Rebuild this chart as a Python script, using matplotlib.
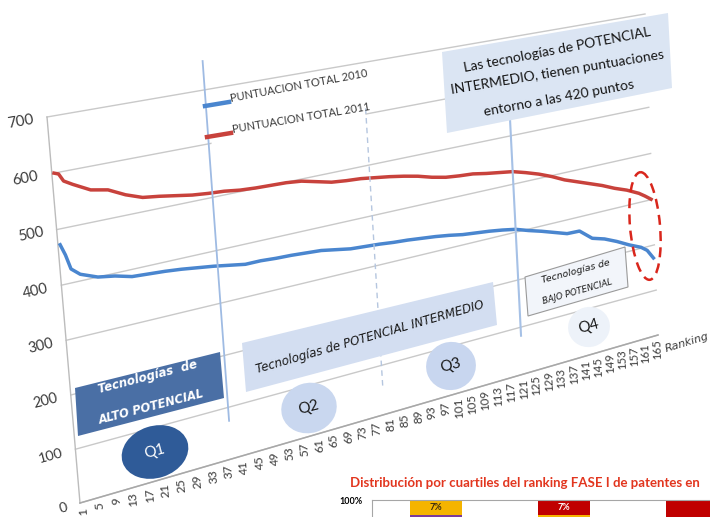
import numpy as np
import matplotlib
matplotlib.use("Agg")
import matplotlib.pyplot as plt
from matplotlib.transforms import Transform, Affine2D
from matplotlib.patches import Polygon, Ellipse

plt.rcParams['font.family'] = ['Lato', 'DejaVu Sans']
ITAL = 'DejaVu Sans'   # has a real oblique face

# values (ranking position -> total score)
rank = [1, 2, 3, 5, 9, 13, 17, 21, 25, 29, 33, 37, 41, 45, 49, 53, 57, 61, 65, 69,
        73, 77, 81, 85, 89, 93, 97, 101, 105, 109, 113, 117, 121, 125, 129, 133,
        137, 141, 145, 149, 153, 157, 161, 163, 165]
total_2011 = [600, 597, 583, 574, 558, 552, 537, 526, 522, 517, 512, 509, 507, 503,
              501, 500, 499, 496, 489, 482, 479, 477, 473, 469, 464, 458, 450, 444,
              441, 439, 434, 430, 426, 418, 409, 398, 385, 375, 365, 355, 343, 333,
              320, 311, 301]
total_2010 = [472, 452, 425, 412, 400, 395, 387, 385, 383, 380, 376, 372, 367, 362,
              362, 360, 359, 357, 355, 350, 345, 343, 341, 338, 336, 333, 330, 326,
              321, 318, 315, 311, 306, 297, 289, 280, 271, 270, 248, 240, 228, 214,
              202, 192, 172]
y_ticks = list(range(0, 701, 100))
x_ticks = list(range(1, 166, 4))
q_cuts = [38, 79.5, 121]
q_names = ['Q1', 'Q2', 'Q3', 'Q4']

# lower chart (only its top edge is in the picture)
bar_top = [7, 7, 20]
bar_rest = [93, 93, 80]
bar_top_col = ['#f5b400', '#c00000', '#c00000']
bar_rest_col = ['#7a3b9c', '#f5b400', '#c00000']

W, H = 710, 517
fig = plt.figure(figsize=(W / 100, H / 100), dpi=100)
ax = fig.add_axes([0, 0, 1, 1])
ax.set_xlim(0.5, 165.5)
ax.set_ylim(0, 700)
ax.set_autoscale_on(False)
ax.axis('off')

# the slide was photographed at an angle: plot-area corners in photo pixels
corners = [(80, 503), (658, 335), (645, 14), (47, 117)]


def homography(c):
    src = [(0, 0), (1, 0), (1, 1), (0, 1)]
    A, b = [], []
    for (u, v), (x, y) in zip(src, c):
        A.append([u, v, 1, 0, 0, 0, -u * x, -v * x]); b.append(x)
        A.append([0, 0, 0, u, v, 1, -u * y, -v * y]); b.append(y)
    h = np.linalg.solve(np.array(A, float), np.array(b, float))
    return np.append(h, 1).reshape(3, 3)


class Persp(Transform):
    input_dims = output_dims = 2

    def __init__(self, M):
        super().__init__()
        self.M = M

    def transform_non_affine(self, pts):
        pts = np.asarray(pts, float).reshape(-1, 2)
        p = np.column_stack([pts, np.ones(len(pts))]) @ self.M.T
        return p[:, :2] / p[:, 2:]


px = Affine2D().scale(1 / W, -1 / H).translate(0, 1) + fig.transFigure
T = ax.transLimits + Persp(homography(corners)) + px


def local(x, y, dx, dy):
    a, b = T.transform([(x, y), (x + dx, y + dy)])
    d = b - a
    return np.degrees(np.arctan2(d[1], d[0])), np.hypot(d[0], d[1])


blue = '#4a86cf'
red = '#c8423c'
grid = '#c9c9c9'
txt = '#3a3a3a'

# grid, axes
for v in y_ticks:
    ax.plot([0.5, 165.5], [v, v], transform=T, color=grid, lw=1.0, zorder=1)
ax.plot([0.5, 0.5], [0, 700], transform=T, color='#bcbcbc', lw=1.0, zorder=1)
ax.plot([0.5, 165.5], [0, 0], transform=T, color='#a8a8a8', lw=1.1, zorder=1)

# quartile dividers
div_span = [(74, 753), (59, 616), (82, 623)]
div_style = [dict(color='#9fbbe3', lw=1.3, ls='-'),
             dict(color='#b5c6df', lw=1.0, ls=(0, (4, 3))),
             dict(color='#a6c1e6', lw=1.5, ls='-')]
for c, (lo, hi), st in zip(q_cuts, div_span, div_style):
    ax.plot([c, c], [lo, hi], transform=T, zorder=4, **st)

# series
ax.plot(rank, total_2010, transform=T, color=blue, lw=2.5, zorder=3,
        solid_joinstyle='round')
ax.plot(rank, total_2011, transform=T, color=red, lw=2.5, zorder=3,
        solid_joinstyle='round')

# y tick labels
for v in y_ticks:
    a, s = local(0.5, v, 1, 0)
    _, sv = local(0.5, v, 0, 100)
    ax.text(-2.5, v, str(v), transform=T, ha='right', va='center',
            rotation=a, rotation_mode='anchor', fontsize=10.5 * sv / 55,
            color=txt)

# x tick labels
for t in x_ticks:
    a, _ = local(t, 0, 0, 1)
    _, sv = local(t, 0, 0, 100)
    ax.text(t, -9, str(t), transform=T, ha='right', va='center',
            rotation=a, rotation_mode='anchor', fontsize=9 * (0.5 + 0.5 * sv / 55),
            color=txt)

ax.text(666, 352, 'Ranking', transform=px, rotation=17, fontsize=8,
        style='italic', family=ITAL, color=txt, ha='left', va='baseline',
        rotation_mode='anchor')

# legend
ax.add_patch(Polygon([(209, 92), (362, 66), (366, 122), (212, 152)], closed=True,
                     transform=px, fc='white', ec='none', zorder=3))
ax.plot([205, 229], [106, 102], transform=px, color=blue, lw=3.2, zorder=5)
ax.plot([207, 231], [137, 133], transform=px, color=red, lw=3.2, zorder=5)
ax.text(231, 102, 'PUNTUACION TOTAL 2010', transform=px, rotation=10.5, fontsize=8,
        color=txt, ha='left', va='baseline', rotation_mode='anchor', zorder=5)
ax.text(233, 133, 'PUNTUACION TOTAL 2011', transform=px, rotation=9.5, fontsize=8,
        color=txt, ha='left', va='baseline', rotation_mode='anchor', zorder=5)

# call-out boxes
ax.add_patch(Polygon([(442, 52), (668, 13), (672, 88), (447, 133)], closed=True,
                     transform=px, fc='#dbe5f3', ec='none', zorder=6))
for line, (cx, cy, r) in zip(['Las tecnologías de POTENCIAL',
                              'INTERMEDIO, tienen puntuaciones',
                              'entorno a las 420 puntos'],
                             [(557, 50, 11), (557, 72, 9.5), (559, 98, 10.5)]):
    ax.text(cx, cy, line, transform=px, rotation=r, fontsize=10, color='#151515',
            ha='center', va='center', rotation_mode='anchor', zorder=7)

ax.add_patch(Polygon([(75, 388), (220, 352), (224, 398), (78, 436)], closed=True,
                     transform=px, fc='#4a6fa5', ec='none', zorder=6))
ax.text(148, 377, 'Tecnologías  de', transform=px, rotation=14.5, fontsize=8.5,
        color='white', style='italic', weight='bold', family=ITAL, ha='center',
        va='center', rotation_mode='anchor', zorder=7)
ax.text(151, 407, 'ALTO POTENCIAL', transform=px, rotation=14.5, fontsize=8.3,
        color='white', style='italic', weight='bold', family=ITAL, ha='center',
        va='center', rotation_mode='anchor', zorder=7)

ax.add_patch(Polygon([(242, 343), (493, 282), (497, 325), (246, 392)], closed=True,
                     transform=px, fc='#d3def1', ec='none', zorder=6))
ax.text(370, 337, 'Tecnologías de POTENCIAL INTERMEDIO', transform=px, rotation=16,
        fontsize=8.6, color='#1a1a1a', style='italic', family=ITAL, ha='center',
        va='center', rotation_mode='anchor', zorder=7)

ax.add_patch(Polygon([(525, 277), (625, 247), (628, 287), (528, 316)], closed=True,
                     transform=px, fc='#f2f5fa', ec='#9a9a9a', lw=0.8, zorder=6))
ax.text(576, 272, 'Tecnologías de', transform=px, rotation=15, fontsize=6.8,
        color='#1a1a1a', style='italic', family=ITAL, ha='center', va='center',
        rotation_mode='anchor', zorder=7)
ax.text(577, 292, 'BAJO POTENCIAL', transform=px, rotation=16, fontsize=6.2,
        color='#1a1a1a', style='italic', family=ITAL, ha='center', va='center',
        rotation_mode='anchor', zorder=7)

# quartile bubbles
bubbles = [(155, 452, 68, 52, '#2f5b98', 'white'),
           (309, 408, 56, 50, '#c9d7ef', '#1a1a1a'),
           (451, 366, 50, 48, '#c8d6ef', '#1a1a1a'),
           (589, 327, 42, 40, '#edf2f9', '#1a1a1a')]
for name, (cx, cy, w, h, fc, tc) in zip(q_names, bubbles):
    ax.add_patch(Ellipse((cx, cy), w, h, angle=-18, transform=px, fc=fc, ec='none',
                         zorder=6))
    ax.text(cx, cy, name, transform=px, rotation=15, fontsize=11, color=tc,
            ha='center', va='center', rotation_mode='anchor', zorder=7)

# red dashed ring round the tail
ax.add_patch(Ellipse((645, 226), 30, 108, angle=-5, transform=px, fc='none',
                     ec='#d9261c', lw=1.8, ls=(0, (4, 2.5)), zorder=8))

# lower chart
fig.text(350 / W, 1 - 483 / H,
         'Distribución por cuartiles del ranking FASE I de patentes en',
         color='#e2361f', fontsize=9.5, weight='bold', ha='left', va='center')
ax2 = fig.add_axes([372 / W, (H - 714) / H, 512 / W, 214 / H])
ax2.patch.set_visible(False)
pos = np.arange(len(bar_top))
ax2.bar(pos, bar_rest, width=0.406, color=bar_rest_col)
ax2.bar(pos, bar_top, bottom=bar_rest, width=0.406, color=bar_top_col)
for p, v, b, c in zip(pos[:2], bar_top[:2], bar_rest[:2], ['#3a2a10', 'white']):
    ax2.text(p, b + v / 2, f'{v}%', ha='center', va='center', fontsize=6.5,
             weight='bold', color=c)
ax2.set_xlim(-0.5, 3.5)
ax2.set_ylim(0, 100)
ax2.set_xticks([])
ax2.set_yticks([100])
ax2.set_yticklabels(['100%'], fontsize=6.5, weight='bold')
ax2.tick_params(axis='y', length=0, pad=7)
for side in ['right', 'bottom']:
    ax2.spines[side].set_visible(False)
for side in ['left', 'top']:
    ax2.spines[side].set_color('#a6a6a6')

fig.savefig('out.png', dpi=100)
